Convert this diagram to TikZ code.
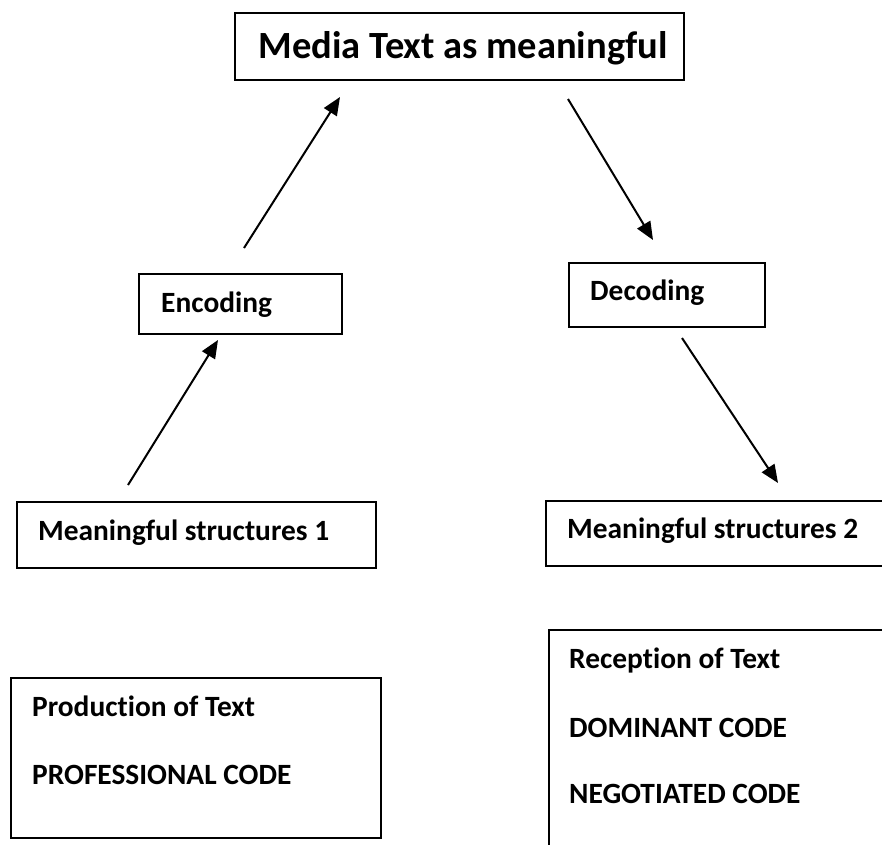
\documentclass[tikz,border=0pt]{standalone}
\usepackage{fontspec}
\setmainfont[Ligatures=NoCommon]{Carlito}
\usetikzlibrary{arrows.meta}
\tikzset{
  box/.style={draw=black, line width=1.6pt, rectangle, inner sep=0pt, anchor=north west},
  lbl/.style={font=\fontsize{29.4}{34}\selectfont\bfseries, inner sep=0pt, anchor=base west},
  big/.style={font=\fontsize{38.5}{42}\selectfont\bfseries, inner sep=0pt, anchor=base},
  conn/.style={line width=2pt, -{Triangle[length=18pt,width=15pt]}, shorten >=0pt}
}
\begin{document}
\begin{tikzpicture}[x=1pt,y=-1pt]
\useasboundingbox (0,0) rectangle (882,844);
\clip (0,0) rectangle (882,844);
% boxes
\node[box, minimum width=449pt, minimum height=67pt] (top) at (234,12) {};
\node[big] (toptxt) at (463,58) {Media Text as meaningful};

\node[box, minimum width=203pt, minimum height=60pt] (enc) at (138,273) {};
\node[lbl] (enctxt) at (161,312) {Encoding};

\node[box, minimum width=196pt, minimum height=64pt] (dec) at (568,262) {};
\node[lbl] (dectxt) at (590,300) {Decoding};

\node[box, minimum width=359pt, minimum height=66pt] (ms1) at (16,501) {};
\node[lbl] (ms1txt) at (38,540) {Meaningful structures 1};

\node[box, minimum width=350pt, minimum height=65pt] (ms2) at (545,500) {};
\node[lbl] (ms2txt) at (567,538) {Meaningful structures 2};

\node[box, minimum width=370pt, minimum height=160pt] (prod) at (10,677) {};
\node[lbl] (prod1) at (32,716) {Production of Text};
\node[lbl] (prod2) at (32,784) {PROFESSIONAL CODE};

\node[box, minimum width=350pt, minimum height=240pt] (rec) at (548,629) {};
\node[lbl] (rec1) at (569,668) {Reception of Text};
\node[lbl] (rec2) at (569,737) {DOMINANT CODE};
\node[lbl] (rec3) at (569,803) {NEGOTIATED CODE};

% arrow end points
\coordinate (a1s) at (128,485);
\coordinate (a1e) at (218,340);
\coordinate (a2s) at (244,248);
\coordinate (a2e) at (340,97);
\coordinate (a3s) at (568,99);
\coordinate (a3e) at (653,240);
\coordinate (a4s) at (682,338);
\coordinate (a4e) at (778,483);

\draw[conn] (a1s) -- (a1e);
\draw[conn] (a2s) -- (a2e);
\draw[conn] (a3s) -- (a3e);
\draw[conn] (a4s) -- (a4e);
\end{tikzpicture}
\end{document}
